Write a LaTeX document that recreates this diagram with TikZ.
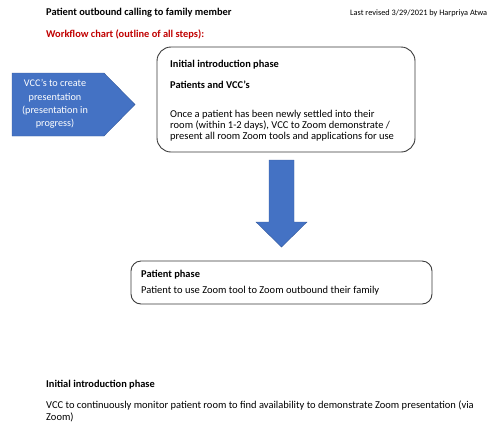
\documentclass[tikz,border=0pt]{standalone}
\usepackage{fontspec}
\setmainfont{Carlito}
\definecolor{officeblue}{HTML}{4472C4}
\definecolor{hdrred}{HTML}{C00000}
\definecolor{boxline}{HTML}{3A3A3A}
\begin{document}
\begin{tikzpicture}[x=1pt,y=-1pt,
  txt/.style={anchor=base west, inner sep=0pt, font=\fontsize{10.5}{12.5}\selectfont},
  btxt/.style={txt, font=\fontsize{10.4}{12.5}\selectfont\bfseries},
  phasebox/.style={draw=boxline, line width=0.9pt, rounded corners=14pt},
  blockfill/.style={fill=officeblue, draw=officeblue!80!black, line width=0.4pt}]
\useasboundingbox (0,0) rectangle (492,424);
% header
\node[btxt] (title) at (46,15) {Patient outbound calling to family member};
\node[txt, font=\fontsize{8.3}{10}\selectfont] (rev) at (350,15) {Last revised 3/29/2021 by Harpriya Atwa};
\node[btxt, text=hdrred] (wf) at (46,37) {Workflow chart (outline of all steps):};
% left pentagon
\draw[blockfill] (12,73) -- (104,73) -- (135,104.5) -- (104,136) -- (12,136) -- cycle;
\node[inner sep=0pt, align=center, text=white, font=\fontsize{10.2}{13.2}\selectfont] (vcc) at (55,104)
  {VCC’s to create\\presentation\\(presentation in\\progress)};
% top box
\draw[phasebox] (157,47) rectangle (415,152);
\node[btxt] (t1) at (170,67) {Initial introduction phase};
\node[btxt] (t2) at (170,88) {Patients and VCC’s};
\node[txt] (t3) at (170,117.5) {Once a patient has been newly settled into their};
\node[txt] (t4) at (170,128.5) {room (within 1-2 days), VCC to Zoom demonstrate /};
\node[txt] (t5) at (170,139.5) {present all room Zoom tools and applications for use};
% down block arrow
\draw[blockfill] (269,160) -- (294,160) -- (294,222) -- (307,222) -- (281.5,247) -- (256,222) -- (269,222) -- cycle;
% bottom box
\draw[phasebox, rounded corners=10pt] (131,261) rectangle (432,304);
\node[btxt] (p1) at (141,277) {Patient phase};
\node[txt] (p2) at (141,293) {Patient to use Zoom tool to Zoom outbound their family};
% bottom text
\node[btxt] (b1) at (46,387) {Initial introduction phase};
\node[txt] (b2) at (46,408.5) {VCC to continuously monitor patient room to find availability to demonstrate Zoom presentation (via};
\node[txt] (b3) at (46,420) {Zoom)};
\end{tikzpicture}
\end{document}
